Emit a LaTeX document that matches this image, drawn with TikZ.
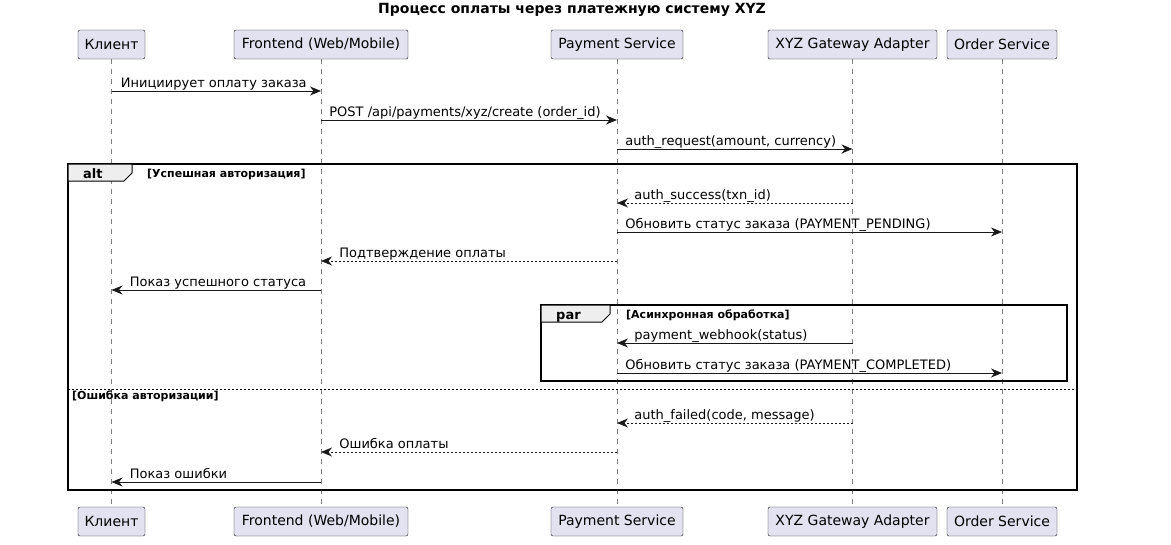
\documentclass[tikz,border=0pt]{standalone}
\usepackage{fontspec}
\setmainfont{DejaVu Sans}
\usetikzlibrary{arrows.meta}
\definecolor{boxfill}{HTML}{E2E2F0}
\definecolor{ink}{HTML}{181818}
\definecolor{tabfill}{HTML}{EEEEEE}
\tikzset{
	actorbox/.style={draw=ink, fill=boxfill, rounded corners=2pt, minimum height=29pt, inner sep=0pt, font=\fontsize{14}{16}\selectfont},
	lifeline/.style={draw=ink!55, line width=0.5pt, dash pattern=on 5pt off 5pt},
	sync/.style={draw=ink, line width=0.8pt, -{Stealth[length=11pt,width=9pt,inset=3.5pt]}},
	reply/.style={sync, dash pattern=on 2pt off 2pt},
	msgtext/.style={font=\fontsize{13}{15}\selectfont, inner sep=0pt, anchor=base west},
	framebox/.style={draw=black, line width=1.3pt},
	tabshape/.style={draw=black, line width=1pt, fill=tabfill},
	tabtext/.style={font=\bfseries\fontsize{13}{15}\selectfont, inner sep=0pt, anchor=base west},
	guard/.style={font=\bfseries\fontsize{11}{13}\selectfont, inner sep=0pt, anchor=base west},
}
\begin{document}
\begin{tikzpicture}[x=1pt, y=-1pt]
	\useasboundingbox (0,0) rectangle (1171,544);
	\node[font=\bfseries\fontsize{14}{16}\selectfont] (title) at (572,10) {Процесс оплаты через платежную систему XYZ};
	% participants, top and bottom
	\node[actorbox, minimum width=67pt] (cl) at (111.5,44.5) {Клиент};
	\node[actorbox, minimum width=174pt] (fe) at (321,44.5) {Frontend (Web/Mobile)};
	\node[actorbox, minimum width=132pt] (ps) at (617,44.5) {Payment Service};
	\node[actorbox, minimum width=169pt] (gw) at (852.5,44.5) {XYZ Gateway Adapter};
	\node[actorbox, minimum width=110pt] (os) at (1002,44.5) {Order Service};
	\node[actorbox, minimum width=67pt] (clb) at (111.5,521.5) {Клиент};
	\node[actorbox, minimum width=174pt] (feb) at (321,521.5) {Frontend (Web/Mobile)};
	\node[actorbox, minimum width=132pt] (psb) at (617,521.5) {Payment Service};
	\node[actorbox, minimum width=169pt] (gwb) at (852.5,521.5) {XYZ Gateway Adapter};
	\node[actorbox, minimum width=110pt] (osb) at (1002,521.5) {Order Service};
	\draw[lifeline] (cl.south) -- (clb.north);
	\draw[lifeline] (fe.south) -- (feb.north);
	\draw[lifeline] (ps.south) -- (psb.north);
	\draw[lifeline] (gw.south) -- (gwb.north);
	\draw[lifeline] (os.south) -- (osb.north);
	% messages
	\draw[sync] (cl |- 0,91) -- (fe |- 0,91) node[pos=0, msgtext, xshift=9pt, yshift=4pt] {Инициирует оплату заказа};
	\draw[sync] (fe |- 0,120) -- (ps |- 0,120) node[pos=0, msgtext, xshift=8pt, yshift=4pt] {POST /api/payments/xyz/create (order\_id)};
	\draw[sync] (ps |- 0,149) -- (gw |- 0,149) node[pos=0, msgtext, xshift=8pt, yshift=4pt] {auth\_request(amount, currency)};
	% alt frame
	\draw[framebox] (68,164) rectangle (1077,490);
	\draw[tabshape] (68,164) -- (132,164) -- (132,173) -- (124,181) -- (68,181) -- cycle;
	\node[tabtext] (altlbl) at (83,178) {alt};
	\node[guard] (okguard) at (147,177) {[Успешная авторизация]};
	\draw[reply] (gw |- 0,203) -- (ps |- 0,203) node[pos=1, msgtext, xshift=17pt, yshift=4pt] {auth\_success(txn\_id)};
	\draw[sync] (ps |- 0,232) -- (os |- 0,232) node[pos=0, msgtext, xshift=8pt, yshift=4pt] {Обновить статус заказа (PAYMENT\_PENDING)};
	\draw[reply] (ps |- 0,261) -- (fe |- 0,261) node[pos=1, msgtext, xshift=18pt, yshift=4pt] {Подтверждение оплаты};
	\draw[sync] (fe |- 0,290) -- (cl |- 0,290) node[pos=1, msgtext, xshift=18pt, yshift=4pt] {Показ успешного статуса};
	% par frame
	\draw[framebox] (541,305) rectangle (1067,381);
	\draw[tabshape] (541,305) -- (610,305) -- (610,314) -- (602,322) -- (541,322) -- cycle;
	\node[tabtext] (parlbl) at (556,319) {par};
	\node[guard] (asyncguard) at (626,318) {[Асинхронная обработка]};
	\draw[sync] (gw |- 0,343) -- (ps |- 0,343) node[pos=1, msgtext, xshift=17pt, yshift=4pt] {payment\_webhook(status)};
	\draw[sync] (ps |- 0,373) -- (os |- 0,373) node[pos=0, msgtext, xshift=8pt, yshift=4pt] {Обновить статус заказа (PAYMENT\_COMPLETED)};
	% else branch
	\draw[draw=black, line width=0.6pt, dash pattern=on 2pt off 2pt] (68,389) -- (1077,389);
	\node[guard] (failguard) at (72,399) {[Ошибка авторизации]};
	\draw[reply] (gw |- 0,423) -- (ps |- 0,423) node[pos=1, msgtext, xshift=17pt, yshift=4pt] {auth\_failed(code, message)};
	\draw[reply] (ps |- 0,452) -- (fe |- 0,452) node[pos=1, msgtext, xshift=18pt, yshift=4pt] {Ошибка оплаты};
	\draw[sync] (fe |- 0,482) -- (cl |- 0,482) node[pos=1, msgtext, xshift=18pt, yshift=4pt] {Показ ошибки};
\end{tikzpicture}
\end{document}
